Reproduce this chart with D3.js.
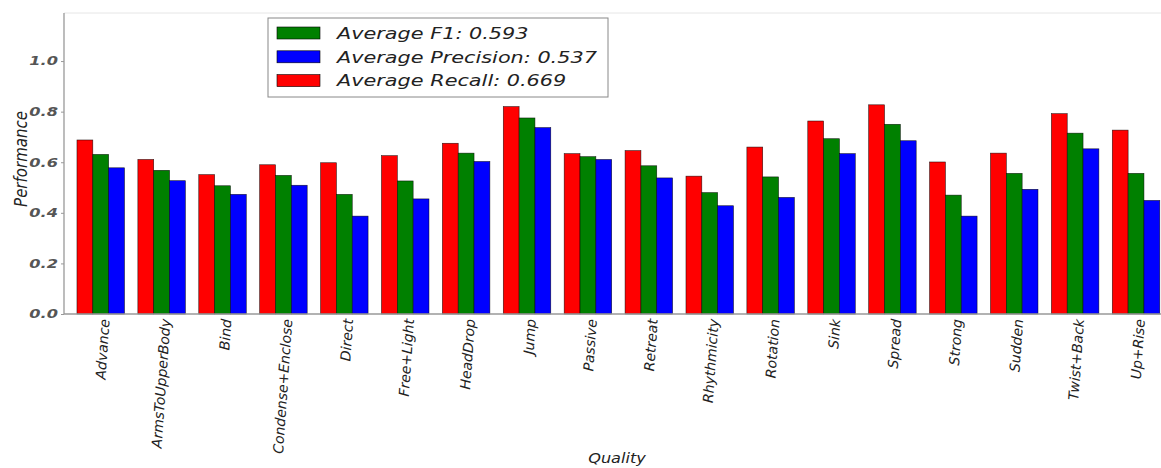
<!DOCTYPE html>
<html><head><meta charset="utf-8">
<script src="https://cdn.jsdelivr.net/npm/d3@7"></script>
<style>body{margin:0;background:#fff;} text{font-family:"DejaVu Sans",sans-serif;font-style:italic;}</style>
</head><body>
<svg id="c" width="1161" height="468"></svg>
<script>
const categories = ["Advance","ArmsToUpperBody","Bind","Condense+Enclose","Direct","Free+Light","HeadDrop","Jump","Passive","Retreat","Rhythmicity","Rotation","Sink","Spread","Strong","Sudden","Twist+Back","Up+Rise"];
const recall    = [0.688,0.611,0.551,0.590,0.598,0.626,0.675,0.820,0.634,0.646,0.545,0.660,0.763,0.827,0.601,0.636,0.792,0.727];
const f1        = [0.631,0.568,0.507,0.548,0.473,0.526,0.636,0.775,0.622,0.586,0.480,0.542,0.693,0.750,0.470,0.556,0.715,0.556];
const precision = [0.578,0.527,0.473,0.509,0.387,0.455,0.603,0.737,0.611,0.538,0.428,0.461,0.634,0.685,0.387,0.493,0.653,0.449];
const yTicks = [0.0,0.2,0.4,0.6,0.8,1.0];
const legendLabels = ["Average F1: 0.593","Average Precision: 0.537","Average Recall: 0.669"];

const svg = d3.select("#c");
const L = 64, R = 1161, T = 13, B = 314;
const x = d3.scaleLinear().domain([-0.213, 17.8]).range([L, R]);
const y = d3.scaleLinear().domain([0, 1.19]).range([B, T]);
const w = 0.26;

const series = [
  {vals: recall, color: "#ff0000", off: 0},
  {vals: f1, color: "#008000", off: w},
  {vals: precision, color: "#0000ff", off: 2*w}
];

svg.append("line").attr("x1", L).attr("x2", R).attr("y1", T).attr("y2", T).attr("stroke", "#e6e6e6");
series.forEach(s => {
  svg.append("g").selectAll("rect").data(s.vals).join("rect")
    .attr("x", (d,i) => x(i + s.off))
    .attr("width", x(w) - x(0))
    .attr("y", d => y(d))
    .attr("height", d => y(0) - y(d))
    .attr("fill", s.color)
    .attr("stroke", "#000").attr("stroke-width", 0.6).attr("stroke-opacity", 0.8);
});
svg.append("line").attr("x1", L).attr("x2", L).attr("y1", T).attr("y2", B).attr("stroke", "#999").attr("stroke-width", 1.3);
svg.append("line").attr("x1", L).attr("x2", R).attr("y1", B).attr("y2", B).attr("stroke", "#999").attr("stroke-width", 1.3);

const ya = svg.append("g").attr("transform", `translate(${L},0)`)
  .call(d3.axisLeft(y).tickValues(yTicks).tickSize(3).tickFormat(""));
ya.select(".domain").remove();
ya.selectAll("line").attr("stroke", "#999");
svg.append("g").selectAll("text").data(yTicks).join("text")
  .attr("transform", d => `translate(58,${y(d)}) scale(1.35,1)`)
  .attr("text-anchor", "end").attr("dy", "0.36em")
  .attr("font-size", 12).attr("font-weight", "bold").attr("fill", "#555")
  .text(d3.format(".1f"));

svg.append("g").selectAll("text").data(categories).join("text")
  .attr("transform", (d,i) => `translate(${x(i + 1.5*w) + 4},319) rotate(-86)`)
  .attr("text-anchor", "end").attr("dy", "0.35em")
  .attr("font-size", 14).attr("fill", "#222")
  .text(d => d);

svg.append("text").attr("transform", "translate(21,159) rotate(-90) scale(1,1.15)")
  .attr("text-anchor", "middle").attr("dy", "0.35em").attr("font-size", 15).attr("fill", "#222").text("Performance");
svg.append("text").attr("transform", "translate(617,463) scale(1.15,1)").attr("text-anchor", "middle")
  .attr("font-size", 14).attr("fill", "#222").text("Quality");

const lg = svg.append("g");
lg.append("rect").attr("x", 268).attr("y", 18).attr("width", 340).attr("height", 79)
  .attr("fill", "#fff").attr("stroke", "#888").attr("stroke-width", 1);
const lcolors = ["#008000","#0000ff","#ff0000"];
legendLabels.forEach((t,i) => {
  const cy = 33 + i*23.8;
  lg.append("rect").attr("x", 277).attr("y", cy-6).attr("width", 43).attr("height", 12)
    .attr("fill", lcolors[i]).attr("stroke", "#000").attr("stroke-width", 0.6);
  lg.append("text").attr("transform", `translate(337,${cy}) scale(1.3,1)`).attr("dy", "0.36em")
    .attr("font-size", 16).attr("fill", "#222").text(t);
});
</script>
</body></html>
